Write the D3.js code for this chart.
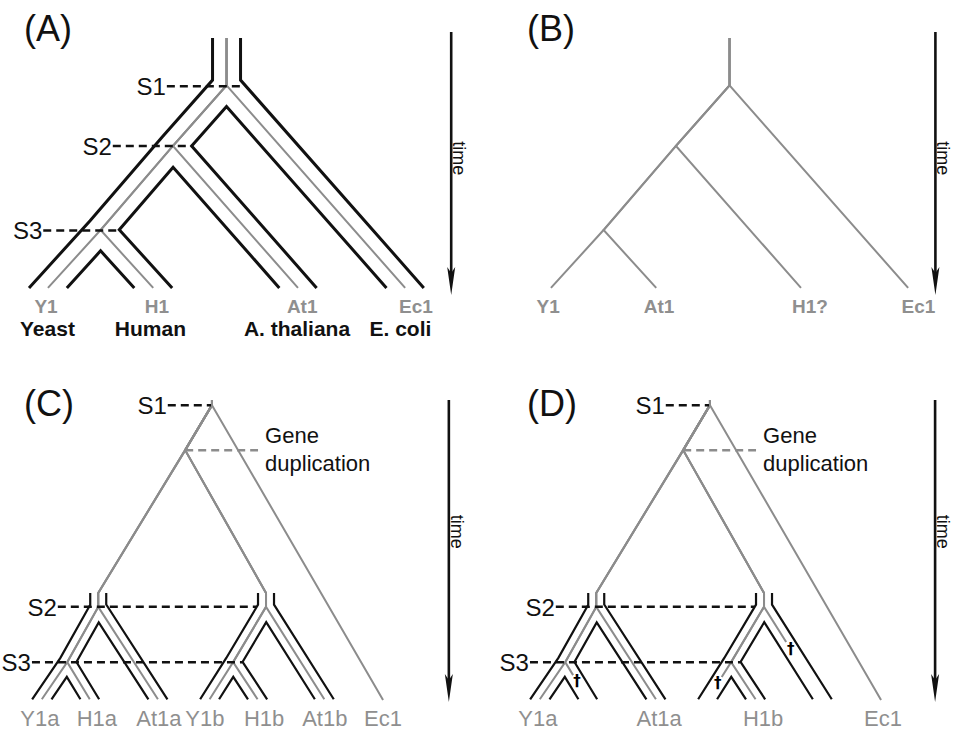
<!DOCTYPE html>
<html lang="en">
<head>
<meta charset="UTF-8">
<title>Gene tree / species tree reconciliation</title>
<script src="https://cdnjs.cloudflare.com/ajax/libs/d3/7.8.5/d3.min.js"></script>
<style>
    body { margin: 0; background: #fff; }
    svg { display: block; font-family: "Liberation Sans", Arial, Helvetica, sans-serif; }
</style>
</head>
<body>
<svg id="chart" width="954" height="731"></svg>
<script>
    // ---- data ----
    // x: horizontal position inside a panel (0-100), t: time (0 = top of arrow, 100 = present)

    // panel A/B: the species tree (and the gene tree that follows it)
    const treeA = [
        {id: "top", parent: null, x: 48.2, t: 2.3},
        {id: "S1", parent: "top", x: 48.2, t: 20.3},
        {id: "S2", parent: "S1", x: 36.8, t: 43.3},
        {id: "S3", parent: "S2", x: 21.4, t: 75.3},
        {id: "Y1", parent: "S3", x: 10.2, t: 97.3},
        {id: "H1", parent: "S3", x: 32.6, t: 97.3},
        {id: "At1", parent: "S2", x: 63.4, t: 97.3},
        {id: "Ec1", parent: "S1", x: 86.2, t: 97.3}
    ];
    const leafLabelsA = ["Y1", "H1", "At1", "Ec1"];
    const leafLabelXA = [9.8, 33.4, 64.3, 88.5];
    const speciesNames = ["Yeast", "Human", "A. thaliana", "E. coli"];
    const speciesNameX = [10.1, 32.0, 63.2, 85.2];
    const leafLabelsB = ["Y1", "At1", "H1?", "Ec1"];
    const leafLabelXB = [9.6, 33.2, 65.3, 88.4];
    const speciationLinesA = [
        {label: "S1", t: 20.6, x0: 35.5, x1: 51.3},
        {label: "S2", t: 43.3, x0: 24.0, x1: 40.9},
        {label: "S3", t: 75.5, x0: 9.2, x1: 25.1}
    ];

    // panel C/D: gene tree with a duplication, two copies inside species tubes
    const treeC = [
        {id: "top", parent: null, x: 45.1, t: 0},
        {id: "S1", parent: "top", x: 45.1, t: 1.7},
        {id: "dup", parent: "S1", x: 39.4, t: 16.6},
        {id: "a", parent: "dup", x: 20.9, t: 63.9},
        {id: "S2a", parent: "a", x: 20.9, t: 68.5},
        {id: "S3a", parent: "S2a", x: 14.3, t: 86.8},
        {id: "Y1a", parent: "S3a", x: 8.9, t: 99.1},
        {id: "H1a", parent: "S3a", x: 19.1, t: 99.1},
        {id: "At1a", parent: "S2a", x: 33.6, t: 99.1},
        {id: "b", parent: "dup", x: 56.6, t: 63.9},
        {id: "S2b", parent: "b", x: 56.6, t: 68.5},
        {id: "S3b", parent: "S2b", x: 49.6, t: 86.8},
        {id: "Y1b", parent: "S3b", x: 44.6, t: 99.1},
        {id: "H1b", parent: "S3b", x: 54.8, t: 99.1},
        {id: "At1b", parent: "S2b", x: 69.0, t: 99.1},
        {id: "Ec1", parent: "S1", x: 81.5, t: 99.3}
    ];
    const tubeRootsC = ["a", "b"];
    const leafLabelsC = ["Y1a", "H1a", "At1a", "Y1b", "H1b", "At1b", "Ec1"];
    const leafLabelXC = [8.5, 20.6, 33.8, 43.6, 56.2, 69.1, 81.5];
    const leafLabelsD = ["Y1a", "At1a", "H1b", "Ec1"];
    const leafLabelXD = [8.5, 34.3, 56.4, 81.9];
    const speciationLinesC = [
        {label: "S1", t: 1.7, x0: 35.7, x1: 44.9},
        {label: "S2", t: 68.5, x0: 12.3, x1: 54.5},
        {label: "S3", t: 86.8, x0: 6.8, x1: 51.5}
    ];
    const duplicationLine = {t: 16.6, x0: 39.4, x1: 54.9};
    const duplicationText = [
        {text: "Gene", x: 56.4, t: 14.2},
        {text: "duplication", x: 56.4, t: 23.6}
    ];
    // gene losses in D: branch kept up to `end`, dagger at `mark` (fractions of the branch)
    const lossesD = [
        {leaf: "H1a", end: 0.35, mark: 0.52},
        {leaf: "Y1b", end: 0.40, mark: 0.57},
        {leaf: "At1b", end: 0.38, mark: 0.46}
    ];

    // ---- styling / layout ----
    const ink = "#111";
    const gray = "#8c8c8c";
    const grayText = "#8f8f8f";

    const yTop = d3.scaleLinear().domain([0, 100]).range([32, 295]);
    const yBottom = d3.scaleLinear().domain([0, 100]).range([400, 702]);

    const panels = {
        A: {x: d3.scaleLinear().domain([0, 100]).range([0, 470]), y: yTop, tag: [24, 41], arrowX: 96.0, timeT: 48},
        B: {x: d3.scaleLinear().domain([0, 100]).range([503, 973]), y: yTop, tag: [527, 41], arrowX: 92.0, timeT: 48},
        C: {x: d3.scaleLinear().domain([0, 100]).range([0, 470]), y: yBottom, tag: [24, 416], arrowX: 95.5, timeT: 43.6},
        D: {x: d3.scaleLinear().domain([0, 100]).range([498, 968]), y: yBottom, tag: [527, 416], arrowX: 93.0, timeT: 43.6}
    };

    const svg = d3.select("#chart");
    const stratify = d3.stratify().id(d => d.id).parentId(d => d.parent);
    const rootA = stratify(treeA);
    const rootC = stratify(treeC);

    function pos(n, p) {
        return [p.x(n.data.x), p.y(n.data.t)];
    }

    // offset a polyline to the (-dy, dx) side, mitred joins, ends cut horizontally
    function offsetPath(pts, d) {
        const segs = [];
        for (let i = 0; i < pts.length - 1; i++) {
            const dx = pts[i + 1][0] - pts[i][0], dy = pts[i + 1][1] - pts[i][1];
            const len = Math.hypot(dx, dy);
            segs.push({p: [pts[i][0] - d * dy / len, pts[i][1] + d * dx / len], v: [dx, dy]});
        }
        const out = [cutAtY(segs[0], pts[0][1])];
        for (let i = 1; i < segs.length; i++) {
            out.push(intersect(segs[i - 1], segs[i]));
        }
        out.push(cutAtY(segs[segs.length - 1], pts[pts.length - 1][1]));
        return out;
    }

    function cutAtY(s, y) {
        if (Math.abs(s.v[1]) < 1e-9) return s.p;
        const k = (y - s.p[1]) / s.v[1];
        return [s.p[0] + k * s.v[0], y];
    }

    function intersect(a, b) {
        const cr = a.v[0] * b.v[1] - a.v[1] * b.v[0];
        if (Math.abs(cr) < 1e-6) return b.p;
        const wx = b.p[0] - a.p[0], wy = b.p[1] - a.p[1];
        const s = (wx * b.v[1] - wy * b.v[0]) / cr;
        return [a.p[0] + s * a.v[0], a.p[1] + s * a.v[1]];
    }

    // black species "tube" around a (sub)tree
    function drawTube(g, root, p, halfWidth, width) {
        const leaves = root.leaves();
        const paths = [root.path(leaves[0])];
        for (let i = 0; i < leaves.length - 1; i++) {
            paths.push(leaves[i].path(leaves[i + 1]));
        }
        paths.push(leaves[leaves.length - 1].path(root));
        g.append("g").selectAll("path")
            .data(paths)
            .enter().append("path")
            .attr("d", path => d3.line()(offsetPath(path.map(n => pos(n, p)), halfWidth)))
            .attr("fill", "none")
            .attr("stroke", ink)
            .attr("stroke-width", width)
            .attr("stroke-linejoin", "miter")
            .attr("stroke-linecap", "butt");
    }

    // gray gene tree, one polyline per leaf, lost branches cut short
    function drawGeneTree(g, root, p, losses) {
        const lossMap = new Map((losses || []).map(l => [l.leaf, l]));
        const lines = [], marks = [];
        root.leaves().forEach(leaf => {
            const pts = root.path(leaf).map(n => pos(n, p));
            const loss = lossMap.get(leaf.data.id);
            if (loss) {
                const a = pts[pts.length - 2], b = pts[pts.length - 1];
                pts[pts.length - 1] = d3.interpolate(a, b)(loss.end);
                marks.push(d3.interpolate(a, b)(loss.mark));
            }
            lines.push(pts);
        });
        g.append("g").selectAll("path")
            .data(lines)
            .enter().append("path")
            .attr("d", d3.line())
            .attr("fill", "none")
            .attr("stroke", gray)
            .attr("stroke-width", 2)
            .attr("stroke-linejoin", "miter");
        return marks;
    }

    function drawMarks(g, marks) {
        g.append("g").selectAll("text")
            .data(marks)
            .enter().append("text")
            .attr("x", d => d[0])
            .attr("y", d => d[1])
            .attr("text-anchor", "middle")
            .attr("dominant-baseline", "central")
            .attr("font-family", "'DejaVu Sans', sans-serif")
            .attr("font-size", 15)
            .attr("font-weight", "bold")
            .attr("fill", "#000")
            .text("\u2020");
    }

    function drawSpeciation(g, lines, p, fontSize) {
        lines.forEach(s => {
            const y = p.y(s.t);
            g.append("line")
                .attr("x1", p.x(s.x0)).attr("x2", p.x(s.x1))
                .attr("y1", y).attr("y2", y)
                .attr("stroke", ink)
                .attr("stroke-width", 2.5)
                .attr("stroke-dasharray", "8,5");
            g.append("text")
                .attr("x", p.x(s.x0) - 1)
                .attr("y", y)
                .attr("dy", "0.36em")
                .attr("text-anchor", "end")
                .attr("font-size", fontSize)
                .attr("fill", ink)
                .text(s.label);
        });
    }

    function drawLabels(g, labels, xs, p, t, opts) {
        g.append("g").selectAll("text")
            .data(labels)
            .enter().append("text")
            .attr("x", (d, i) => p.x(xs[i]))
            .attr("y", p.y(t) + opts.dy)
            .attr("text-anchor", "middle")
            .attr("font-size", opts.size)
            .attr("font-weight", opts.weight)
            .attr("fill", opts.color)
            .text(d => d);
    }

    function drawTimeArrow(g, p) {
        const x = p.x(p.arrowX), y0 = p.y(0), y1 = p.y(100);
        g.append("line")
            .attr("x1", x).attr("x2", x)
            .attr("y1", y0).attr("y2", y1 - 20)
            .attr("stroke", ink)
            .attr("stroke-width", 2.6);
        g.append("path")
            .attr("d", d3.line()([[x, y1], [x - 4, y1 - 28], [x, y1 - 22], [x + 4, y1 - 28]]) + "Z")
            .attr("fill", ink);
        g.append("text")
            .attr("transform", "translate(" + (x + 2) + "," + p.y(p.timeT) + ") rotate(90)")
            .attr("text-anchor", "middle")
            .attr("font-size", 18)
            .attr("fill", ink)
            .text("time");
    }

    function drawTag(g, p, text) {
        g.append("text")
            .attr("x", p.tag[0])
            .attr("y", p.tag[1])
            .attr("font-size", 36)
            .attr("fill", ink)
            .text(text);
    }

    // ---- panel A ----
    const gA = svg.append("g");
    drawTube(gA, rootA, panels.A, 14, 3);
    drawGeneTree(gA, rootA, panels.A);
    drawSpeciation(gA, speciationLinesA, panels.A, 24);
    drawLabels(gA, leafLabelsA, leafLabelXA, panels.A, 97.3, {dy: 25, size: 19, weight: "bold", color: grayText});
    drawLabels(gA, speciesNames, speciesNameX, panels.A, 97.3, {dy: 48, size: 21, weight: "bold", color: ink});
    drawTimeArrow(gA, panels.A);
    drawTag(gA, panels.A, "(A)");

    // ---- panel B ----
    const gB = svg.append("g");
    drawGeneTree(gB, rootA, panels.B);
    drawLabels(gB, leafLabelsB, leafLabelXB, panels.B, 97.3, {dy: 25, size: 19, weight: "bold", color: grayText});
    drawTimeArrow(gB, panels.B);
    drawTag(gB, panels.B, "(B)");

    // ---- panels C and D ----
    [["C", null], ["D", lossesD]].forEach(([key, losses]) => {
        const p = panels[key];
        const g = svg.append("g");
        tubeRootsC.forEach(id => {
            drawTube(g, rootC.find(n => n.data.id === id), p, 8, 2.2);
        });
        const marks = drawGeneTree(g, rootC, p, losses);
        drawSpeciation(g, speciationLinesC, p, 24);
        g.append("line")
            .attr("x1", p.x(duplicationLine.x0)).attr("x2", p.x(duplicationLine.x1))
            .attr("y1", p.y(duplicationLine.t)).attr("y2", p.y(duplicationLine.t))
            .attr("stroke", gray)
            .attr("stroke-width", 2.5)
            .attr("stroke-dasharray", "8,5");
        g.append("g").selectAll("text")
            .data(duplicationText)
            .enter().append("text")
            .attr("x", d => p.x(d.x))
            .attr("y", d => p.y(d.t))
            .attr("font-size", 22)
            .attr("fill", ink)
            .text(d => d.text);
        drawMarks(g, marks);
        if (key === "C") {
            drawLabels(g, leafLabelsC, leafLabelXC, p, 99.1, {dy: 27, size: 22, weight: "normal", color: grayText});
        } else {
            drawLabels(g, leafLabelsD, leafLabelXD, p, 99.1, {dy: 27, size: 22, weight: "normal", color: grayText});
        }
        drawTimeArrow(g, p);
        drawTag(g, p, "(" + key + ")");
    });
</script>
</body>
</html>
